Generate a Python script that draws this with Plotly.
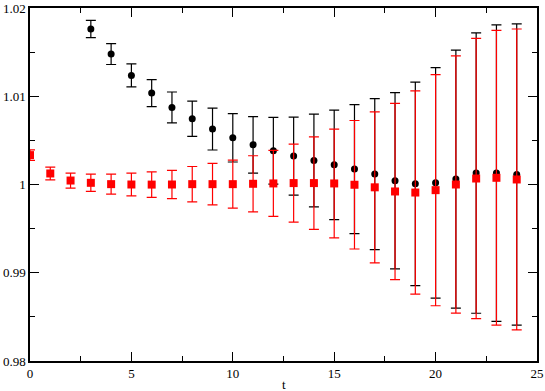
import plotly.graph_objects as go

# black circles (t = 3..24)
t_black = list(range(3, 25))
y_black = [1.01762, 1.01478, 1.01236, 1.01036, 1.00873, 1.00745, 1.00628, 1.00529,
           1.00450, 1.00382, 1.00322, 1.00272, 1.00223, 1.00175, 1.00118, 1.00042,
           1.00008, 1.00019, 1.00061, 1.00129, 1.00129, 1.00113]
e_black = [0.00097, 0.00118, 0.00130, 0.00153, 0.00175, 0.00200, 0.00237, 0.00274,
           0.00320, 0.00378, 0.00442, 0.00525, 0.00620, 0.00731, 0.00855, 0.00998,
           0.01153, 0.01306, 0.01461, 0.01588, 0.01679, 0.01707]

# red squares (t = 0..24)
t_red = list(range(0, 25))
y_red = [1.00333, 1.00125, 1.00045, 1.00019, 1.00004, 1.00000, 0.99999, 1.00000,
         1.00004, 1.00004, 1.00004, 1.00008, 1.00012, 1.00016, 1.00016, 1.00012,
         0.99997, 0.99968, 0.99921, 0.99909, 0.99936, 1.00000, 1.00068, 1.00076,
         1.00057]
e_red = [0.00060, 0.00072, 0.00085, 0.00098, 0.00113, 0.00130, 0.00144, 0.00160,
         0.00200, 0.00236, 0.00272, 0.00318, 0.00374, 0.00442, 0.00524, 0.00616,
         0.00728, 0.00855, 0.00998, 0.01152, 0.01310, 0.01458, 0.01587, 0.01670,
         0.01705]

fig = go.Figure()

fig.add_trace(go.Scatter(
    x=t_black, y=y_black, mode='markers',
    marker=dict(symbol='circle', size=7, color='black'),
    error_y=dict(type='data', array=e_black, visible=True,
                 color='black', thickness=1.2, width=5)
))

fig.add_trace(go.Scatter(
    x=t_red, y=y_red, mode='markers',
    marker=dict(symbol='square', size=8, color='red'),
    error_y=dict(type='data', array=e_red, visible=True,
                 color='red', thickness=1.2, width=5)
))

axis_font = dict(family='Liberation Serif', size=13, color='black')

fig.update_layout(
    width=545, height=391,
    margin=dict(l=30, r=8, t=8, b=30),
    plot_bgcolor='white', paper_bgcolor='white',
    showlegend=False,
    font=axis_font,
    xaxis=dict(
        range=[0, 25], tickvals=[0, 5, 10, 15, 20, 25],
        ticks='inside', ticklen=9, tickwidth=1.2, tickcolor='black',
        minor=dict(tickvals=[2.5, 7.5, 12.5, 17.5, 22.5], ticks='inside',
                   ticklen=5, tickcolor='black', tickwidth=1.2),
        showline=True, linecolor='black', linewidth=1.5, mirror='ticks',
        showgrid=False, zeroline=False, automargin=False,
        ticklabeloverflow='allow', tickfont=axis_font,
    ),
    yaxis=dict(
        range=[0.98, 1.02], tickvals=[0.98, 0.99, 1.0, 1.01, 1.02],
        ticktext=['0.98', '0.99', '1', '1.01', '1.02'],
        ticks='inside', ticklen=9, tickwidth=1.2, tickcolor='black',
        minor=dict(tickvals=[0.985, 0.995, 1.005, 1.015], ticks='inside',
                   ticklen=5, tickcolor='black', tickwidth=1.2),
        showline=True, linecolor='black', linewidth=1.5, mirror='ticks',
        showgrid=False, zeroline=False, automargin=False,
        ticklabeloverflow='allow', tickfont=axis_font,
    ),
)

# x-axis title placed just under the tick labels
fig.add_annotation(
    text='t', xref='paper', yref='paper', x=0.5, y=0,
    xanchor='center', yanchor='top', yshift=-14, showarrow=False,
    font=axis_font,
)

# drop the browser's default body margin so the figure sits at the page corner
fig.write_html("out.html", config={'displayModeBar': False},
               post_script="document.body.style.margin='0';")
